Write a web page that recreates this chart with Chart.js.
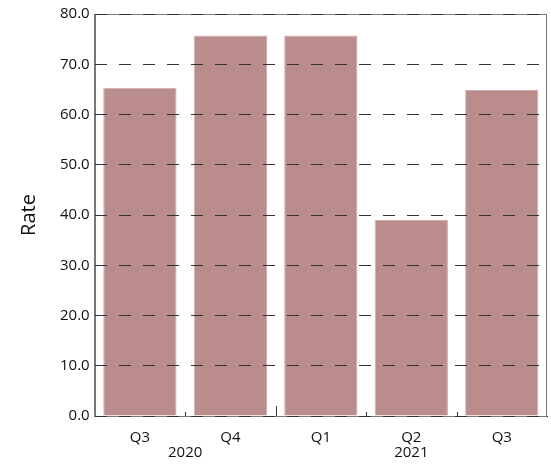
<!DOCTYPE html>
<html><head><meta charset="utf-8">
<script src="https://cdn.jsdelivr.net/npm/chart.js@4.4.1/dist/chart.umd.min.js"></script>
<style>html,body{margin:0;padding:0;background:#fff;overflow:hidden}#wrap{width:551px;height:465px}</style>
</head><body><div id="wrap"><canvas id="c" width="551" height="465"></canvas></div>
<script>
const quarters = ['Q3','Q4','Q1','Q2','Q3'];
const years = ['2020','2021'];
const yearSpans = [2, 3];
const rates = [65.3, 75.7, 75.7, 39.0, 64.9];
const yTicks = [0,10,20,30,40,50,60,70,80];

const FONT = "'Open Sans', sans-serif";

const framePlugin = {
  id: 'frame',
  beforeDatasetsDraw(chart) {
    const {ctx, chartArea: a} = chart;
    ctx.save();
    ctx.strokeStyle = '#777';
    ctx.lineWidth = 1;
    ctx.strokeRect(Math.round(a.left)+0.5, Math.round(a.top)+0.5, Math.round(a.right-a.left)-1, Math.round(a.bottom-a.top));
    ctx.restore();
  },
  afterDatasetsDraw(chart) {
    const {ctx, chartArea: a, scales} = chart;
    ctx.save();
    const x = scales.x;
    ctx.strokeStyle = '#333';
    ctx.lineWidth = 1;
    let boundaryIdx = [];
    let acc = 0;
    yearSpans.forEach(s => { acc += s; boundaryIdx.push(acc); });
    for (let i = 1; i < quarters.length; i++) {
      const px = Math.round(x.getPixelForValue(i - 0.5)) + 0.5;
      const len = boundaryIdx.includes(i) ? 10 : 4;
      ctx.beginPath();
      ctx.moveTo(px, a.bottom);
      ctx.lineTo(px, a.bottom - len);
      ctx.stroke();
    }
    ctx.restore();
  }
};

new Chart(document.getElementById('c'), {
  type: 'bar',
  data: {
    labels: quarters,
    datasets: [{
      data: rates,
      backgroundColor: '#ba8c8c',
      borderColor: '#d2adad',
      borderWidth: 1,
      categoryPercentage: 1,
      barPercentage: 0.81
    }]
  },
  options: {
    responsive: false,
    animation: false,
    layout: { padding: { top: 12, right: 4, left: 0, bottom: 5 } },
    plugins: { legend: { display: false }, tooltip: { enabled: false } },
    scales: {
      y: {
        min: 0, max: 80,
        afterBuildTicks: ax => { ax.ticks = yTicks.map(v => ({value: v})); },
        ticks: { callback: v => Number(v).toFixed(1), color: '#111', font: { family: FONT, size: 15 }, padding: 5 },
        grid: { color: '#333', lineWidth: 1, tickLength: 0, drawTicks: false, z: 1 },
        border: { display: true, color: '#777', dash: [12, 12], z: 2 },
        title: { display: true, text: 'Rate', color: '#111', font: { family: FONT, size: 20 }, padding: { top: 17, bottom: 14 } }
      },
      x: {
        grid: { display: true, drawOnChartArea: false, drawTicks: true, tickLength: 14, color: 'rgba(0,0,0,0)' },
        border: { display: true, color: '#333' },
        ticks: { color: '#111', font: { family: FONT, size: 15, lineHeight: 1.0 }, padding: 0 }
      },
      x2: {
        type: 'linear',
        position: 'bottom',
        offset: false,
        min: 0, max: quarters.length,
        afterBuildTicks: ax => {
          let start = 0;
          ax.ticks = yearSpans.map(s => { const c = start + s / 2; start += s; return {value: c}; });
        },
        ticks: {
          callback: (v, i) => years[i],
          color: '#111', font: { family: FONT, size: 15, lineHeight: 1.0 }, padding: 0, autoSkip: false, maxRotation: 0
        },
        grid: { display: false, drawTicks: false, offset: false },
        border: { display: false }
      }
    }
  },
  plugins: [framePlugin]
});
</script>
</body></html>
